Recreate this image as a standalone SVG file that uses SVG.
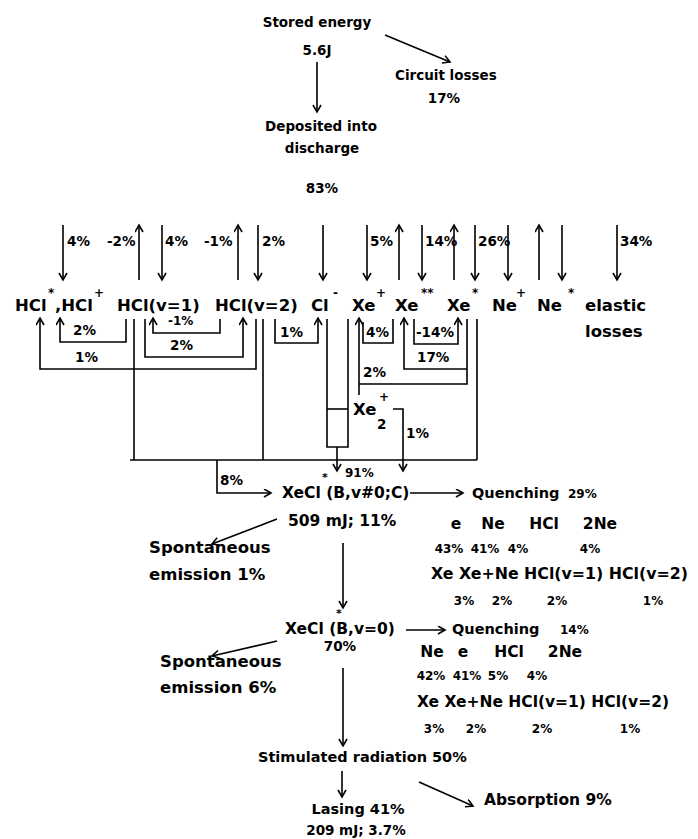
<svg xmlns="http://www.w3.org/2000/svg" width="698" height="839" viewBox="0 0 698 839">
<style>
text{font-family:"DejaVu Sans","Liberation Sans",sans-serif;font-weight:bold;fill:#000}
.m{text-anchor:middle}
.s12{font-size:12px}
.s13{font-size:13.5px}
.s14{font-size:14.5px}
.s15{font-size:15.5px}
.s16{font-size:16.5px}
.sup{font-size:12px}
.ast{font-size:11px}
#connectors path,#connectors line{stroke:#000;stroke-width:1.6;fill:none}
.a{marker-end:url(#ah)}
</style>
<defs>
<marker id="ah" markerUnits="userSpaceOnUse" markerWidth="12" markerHeight="12" refX="8" refY="4.5" orient="auto">
<path d="M1,0.5 L8,4.5 L1,8.5" fill="none" stroke="#000" stroke-width="1.6"/>
</marker>
</defs>
<rect width="698" height="839" fill="#fff"/>

<g id="connectors">
<line class="a" x1="317" y1="62" x2="317" y2="112"/>
<line class="a" x1="385" y1="35" x2="450" y2="62"/>
<line class="a" x1="63" y1="225" x2="63" y2="280"/>
<line class="a" x1="139" y1="280" x2="139" y2="225"/>
<line class="a" x1="162" y1="225" x2="162" y2="280"/>
<line class="a" x1="238" y1="280" x2="238" y2="225"/>
<line class="a" x1="258" y1="225" x2="258" y2="280"/>
<line class="a" x1="323" y1="225" x2="323" y2="280"/>
<line class="a" x1="367" y1="225" x2="367" y2="280"/>
<line class="a" x1="399" y1="280" x2="399" y2="225"/>
<line class="a" x1="422" y1="225" x2="422" y2="280"/>
<line class="a" x1="454" y1="280" x2="454" y2="225"/>
<line class="a" x1="475" y1="225" x2="475" y2="280"/>
<line class="a" x1="508" y1="225" x2="508" y2="280"/>
<line class="a" x1="539" y1="280" x2="539" y2="225"/>
<line class="a" x1="562" y1="225" x2="562" y2="280"/>
<line class="a" x1="617" y1="225" x2="617" y2="280"/>
<path class="a" d="M256,319 V369 H40 V318"/>
<path class="a" d="M126,319 V342 H60 V318"/>
<line x1="134" y1="319" x2="134" y2="460"/>
<path class="a" d="M145,319 V357 H243 V318"/>
<path class="a" d="M220,319 V333 H153 V318"/>
<line x1="263" y1="319" x2="263" y2="460"/>
<path class="a" d="M275,319 V343 H318 V318"/>
<path d="M327,319 V447 H348 V319"/>
<line x1="327" y1="409" x2="348" y2="409"/>
<line class="a" x1="337" y1="447" x2="337" y2="471"/>
<path class="a" d="M359,395 V318"/>
<path d="M359,384 H467 V319"/>
<path d="M363,322 V343 H393 V319"/>
<path class="a" d="M467,369 H404 V318"/>
<path class="a" d="M414,319 V344 H458 V318"/>
<line x1="477" y1="319" x2="477" y2="460"/>
<line x1="130" y1="460" x2="477" y2="460"/>
<path class="a" d="M393,409 H403 V471"/>
<path class="a" d="M217,460 V493 H271"/>
<line class="a" x1="410" y1="493" x2="463" y2="493"/>
<line class="a" x1="277" y1="519" x2="212" y2="544"/>
<line class="a" x1="343" y1="543" x2="343" y2="608"/>
<line class="a" x1="406" y1="630" x2="445" y2="630"/>
<line class="a" x1="277" y1="641" x2="212" y2="656"/>
<line class="a" x1="343" y1="668" x2="343" y2="746"/>
<line class="a" x1="342" y1="771" x2="342" y2="797"/>
<line class="a" x1="419" y1="782" x2="473" y2="806"/>
</g>

<g id="stored"><text class="s13 m" x="317" y="27">Stored energy</text><text class="s13 m" x="317" y="55">5.6J</text></g>
<g id="circuit"><text class="s13" x="395" y="80">Circuit losses</text><text class="s13 m" x="444" y="103">17%</text></g>
<g id="deposited"><text class="s13 m" x="321" y="131">Deposited into</text><text class="s13 m" x="322" y="153">discharge</text><text class="s13 m" x="322" y="193">83%</text></g>

<g id="rowlabels">
<text class="s13" x="67" y="246">4%</text>
<text class="s13" x="107" y="246">-2%</text>
<text class="s13" x="165" y="246">4%</text>
<text class="s13" x="204" y="246">-1%</text>
<text class="s13" x="262" y="246">2%</text>
<text class="s13" x="370" y="246">5%</text>
<text class="s13" x="425" y="246">14%</text>
<text class="s13" x="478" y="246">26%</text>
<text class="s13" x="620" y="246">34%</text>
</g>

<g id="hcl-ions"><text class="s16" x="15" y="311">HCl</text><text class="sup" x="48" y="297">*</text><text class="s16" x="55" y="311">,HCl</text><text class="sup" x="94" y="297">+</text></g>
<g id="hcl-v1"><text class="s16" x="117" y="311">HCl(v=1)</text></g>
<g id="hcl-v2"><text class="s16" x="215" y="311">HCl(v=2)</text></g>
<g id="cl-minus"><text class="s16" x="311" y="311">Cl</text><text class="sup" x="333" y="297">-</text></g>
<g id="xe-plus"><text class="s16" x="352" y="311">Xe</text><text class="sup" x="376" y="297">+</text></g>
<g id="xe-2star"><text class="s16" x="395" y="311">Xe</text><text class="sup" x="421" y="297">**</text></g>
<g id="xe-star"><text class="s16" x="447" y="311">Xe</text><text class="sup" x="472" y="297">*</text></g>
<g id="ne-plus"><text class="s16" x="492" y="311">Ne</text><text class="sup" x="516" y="297">+</text></g>
<g id="ne-star"><text class="s16" x="537" y="311">Ne</text><text class="sup" x="568" y="297">*</text></g>
<g id="elastic"><text class="s16" x="585" y="311">elastic</text><text class="s16" x="585" y="337">losses</text></g>

<g id="looplabels">
<text class="s13" x="73" y="335">2%</text>
<text class="s13" x="75" y="362">1%</text>
<text class="s12" x="168" y="325">-1%</text>
<text class="s13" x="170" y="350">2%</text>
<text class="s13" x="280" y="337">1%</text>
<text class="s13" x="366" y="337">4%</text>
<text class="s13" x="416" y="337">-14%</text>
<text class="s13" x="417" y="362">17%</text>
<text class="s13" x="363" y="377">2%</text>
<text class="s13" x="406" y="438">1%</text>
<text class="s12" x="345" y="477">91%</text>
<text class="s13" x="220" y="485">8%</text>
</g>

<g id="xe2"><text class="s16" x="353" y="415">Xe</text><text class="sup" x="379" y="401">+</text><text class="s13" x="377" y="429">2</text></g>

<g id="xecl-bc"><text class="ast" x="322" y="481">*</text><text class="s15" x="282" y="498">XeCl (B,v#0;C)</text><text class="s15" x="288" y="526">509 mJ; 11%</text></g>
<g id="quench1">
<text class="s14" x="472" y="498">Quenching</text><text class="s12" x="568" y="498">29%</text>
<text class="s15 m" x="456" y="529">e</text><text class="s15 m" x="493" y="529">Ne</text><text class="s15 m" x="544" y="529">HCl</text><text class="s15 m" x="600" y="529">2Ne</text>
<text class="s12 m" x="449" y="553">43%</text><text class="s12 m" x="485" y="553">41%</text><text class="s12 m" x="518" y="553">4%</text><text class="s12 m" x="590" y="553">4%</text>
<text class="s15" x="431" y="579" textLength="257" lengthAdjust="spacingAndGlyphs">Xe Xe+Ne HCl(v=1) HCl(v=2)</text>
<text class="s12 m" x="464" y="605">3%</text><text class="s12 m" x="502" y="605">2%</text><text class="s12 m" x="557" y="605">2%</text><text class="s12 m" x="653" y="605">1%</text>
</g>
<g id="spont1"><text class="s16" x="149" y="553">Spontaneous</text><text class="s16" x="149" y="580">emission 1%</text></g>

<g id="xecl-b0"><text class="ast" x="336" y="617">*</text><text class="s15" x="285" y="634">XeCl (B,v=0)</text><text class="s13 m" x="340" y="651">70%</text></g>
<g id="quench2">
<text class="s14" x="452" y="634">Quenching</text><text class="s12" x="560" y="634">14%</text>
<text class="s15 m" x="432" y="657">Ne</text><text class="s15 m" x="463" y="657">e</text><text class="s15 m" x="509" y="657">HCl</text><text class="s15 m" x="565" y="657">2Ne</text>
<text class="s12 m" x="431" y="680">42%</text><text class="s12 m" x="467" y="680">41%</text><text class="s12 m" x="498" y="680">5%</text><text class="s12 m" x="537" y="680">4%</text>
<text class="s15" x="417" y="707" textLength="252" lengthAdjust="spacingAndGlyphs">Xe Xe+Ne HCl(v=1) HCl(v=2)</text>
<text class="s12 m" x="434" y="733">3%</text><text class="s12 m" x="476" y="733">2%</text><text class="s12 m" x="542" y="733">2%</text><text class="s12 m" x="630" y="733">1%</text>
</g>
<g id="spont2"><text class="s16" x="160" y="667">Spontaneous</text><text class="s16" x="160" y="693">emission 6%</text></g>

<g id="stimulated"><text class="s14" x="258" y="762">Stimulated radiation 50%</text></g>
<g id="lasing"><text class="s14 m" x="358" y="814">Lasing 41%</text><text class="s13 m" x="356" y="835">209 mJ; 3.7%</text></g>
<g id="absorption"><text class="s15" x="484" y="805">Absorption 9%</text></g>
</svg>
